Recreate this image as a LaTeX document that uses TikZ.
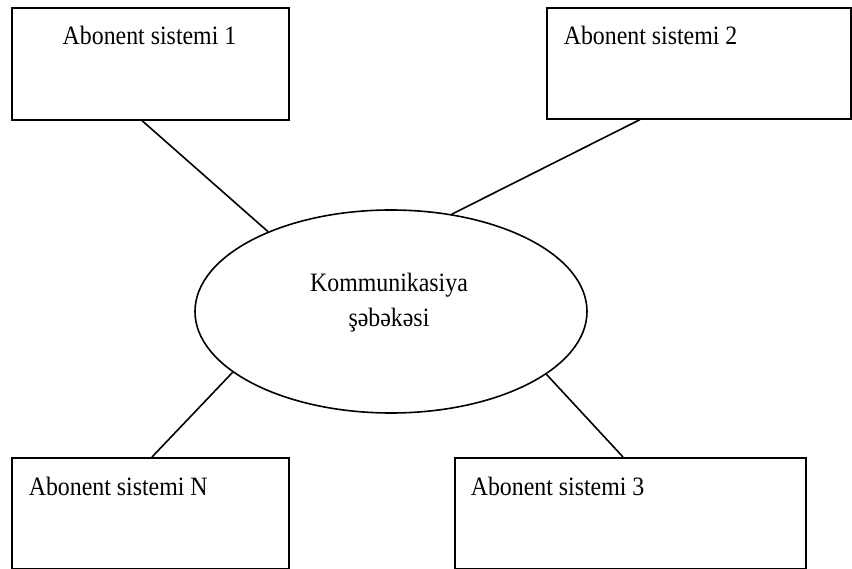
\documentclass[tikz,border=0pt]{standalone}
\usepackage{fontspec}
\setmainfont{Liberation Serif}[FakeStretch=0.9]
\usetikzlibrary{shapes.geometric}
\begin{document}
\begin{tikzpicture}[x=1pt,y=-1pt,
  line width=1.6pt,
  abox/.style={draw, rectangle, inner sep=0pt, anchor=north west},
  btext/.style={inner sep=0pt, font=\fontsize{26.5}{35}\selectfont},
  link/.style={draw, line width=1.6pt}]
  \useasboundingbox (0,0) rectangle (852,569);

  % subscriber systems
  \node[abox, minimum width=277pt, minimum height=112pt] (s1) at (11,7) {};
  \node[abox, minimum width=304pt, minimum height=111pt] (s2) at (546,7) {};
  \node[abox, minimum width=277pt, minimum height=111pt] (sN) at (11,457) {};
  \node[abox, minimum width=351pt, minimum height=111pt] (s3) at (454,457) {};

  \node[btext, anchor=base] (t1) at (149.5,45) {Abonent sistemi 1};
  \node[btext, anchor=base west] (t2) at (563,45) {Abonent sistemi 2};
  \node[btext, anchor=base west] (tN) at (28,495) {Abonent sistemi N};
  \node[btext, anchor=base west] (t3) at (470,495) {Abonent sistemi 3};

  % communication network (base anchor sits on the last line)
  \node[draw, ellipse, inner sep=0pt, minimum width=392pt, minimum height=203pt] (net) at (391,311.5) {};
  \node[btext, align=center, anchor=base] (netlabel) at (389,327) {Kommunikasiya\\şəbəkəsi};

  % connections
  \draw[link] ([xshift=131pt]s1.south west) -- (net.147);
  \draw[link] ([xshift=94pt]s2.south west) -- (net.58);
  \draw[link] (net.201) -- ([xshift=141pt]sN.north west);
  \draw[link] (net.338.5) -- ([xshift=169pt]s3.north west);
\end{tikzpicture}
\end{document}
